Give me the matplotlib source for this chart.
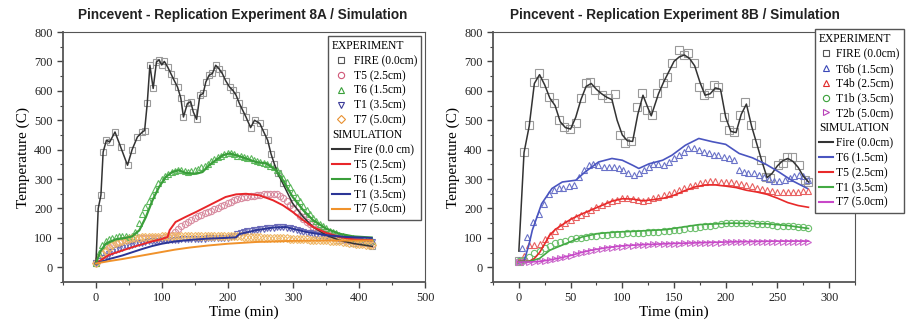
import numpy as np
import matplotlib
matplotlib.use("Agg")
import matplotlib.pyplot as plt
from matplotlib.lines import Line2D
from matplotlib.ticker import MultipleLocator

# ---------------- Experiment 8A (left) ----------------
a_fire_t = [0, 3.5, 7.6, 11, 16, 21, 29, 37.6, 48, 55, 63, 70.6, 74, 78, 82, 87, 92, 96, 100, 104,
            109, 114, 119, 124, 129, 133, 139, 144, 148, 153, 158, 163, 167, 172, 177, 182, 187, 192,
            197, 203, 208, 213, 218, 223, 228, 235, 241, 249, 255, 261, 266, 271, 276, 284, 299, 315,
            330, 350, 370, 391, 420]
a_fire_v = [13, 200, 245, 392, 432, 426, 460, 409, 347, 400, 443, 460, 465, 557, 687, 608, 698, 705, 688, 700,
            681, 658, 635, 613, 575, 511, 557, 563, 528, 503, 585, 591, 630, 653, 659, 687, 675, 659,
            635, 613, 602, 585, 557, 534, 511, 475, 500, 489, 460, 432, 386, 352, 320, 285, 217, 171,
            137, 109, 92, 81, 71]

a_exp_t = list(range(0, 425, 5))
a_t5_exp = [13, 30, 45, 58, 68, 75, 82, 87, 90, 93, 95, 97, 98, 99, 100, 100, 100, 100, 100, 100,
            101, 102, 104, 110, 120, 130, 140, 148, 155, 162, 168, 173, 178, 183, 188, 193, 198, 203,
            208, 213, 218, 223, 228, 232, 235, 238, 240, 242, 244, 246, 247, 248, 249, 250, 250, 248,
            243, 235, 225, 213, 200, 188, 176, 165, 155, 146, 138, 131, 125, 119, 114, 110, 106, 102,
            99, 96, 94, 92, 90, 88, 86, 84, 82, 80, 79]
a_t6_exp = [13, 50, 75, 90, 95, 100, 103, 105, 105, 105, 103, 105, 120, 150, 180, 205, 225, 245, 265, 285,
            300, 310, 318, 325, 328, 330, 330, 327, 325, 326, 330, 335, 340, 345, 350, 360, 367, 375,
            380, 385, 387, 388, 385, 380, 378, 375, 372, 370, 365, 362, 358, 355, 350, 345, 340, 330,
            320, 305, 290, 272, 255, 240, 225, 210, 195, 180, 168, 158, 148, 140, 132, 125, 120, 115,
            110, 107, 104, 101, 99, 97, 95, 93, 91, 89, 88]
a_t1_exp = [13, 22, 30, 38, 45, 52, 58, 63, 67, 71, 74, 77, 80, 82, 84, 86, 88, 89, 90, 91,
            92, 92, 93, 93, 94, 94, 95, 95, 96, 96, 97, 97, 97, 97, 98, 98, 98, 99,
            99, 99, 100, 102, 108, 113, 117, 120, 122, 124, 126, 128, 130, 131, 133, 134, 135, 136,
            136, 136, 135, 133, 130, 127, 124, 121, 118, 115, 113, 110, 108, 106, 104, 102, 100, 98,
            96, 94, 93, 91, 90, 89, 88, 87, 86, 85, 85]
a_t7_exp = [13, 30, 45, 57, 67, 75, 82, 87, 91, 94, 97, 99, 100, 101, 102, 102, 103, 103, 104, 104,
            105, 105, 106, 106, 106, 106, 107, 107, 107, 107, 107, 107, 107, 107, 107, 107, 107, 107,
            107, 107, 107, 106, 106, 105, 105, 104, 104, 103, 103, 102, 102, 101, 101, 100, 100, 99,
            99, 98, 98, 97, 97, 96, 96, 95, 95, 94, 94, 93, 93, 92, 92, 91, 90, 89, 88, 86,
            85, 83, 82, 80, 80, 78, 77, 76, 75]

a_t5_sim_t = [0, 10, 20, 40, 55, 70, 85, 100, 109, 112, 121, 136, 152, 167, 182, 197, 213, 228, 248, 269,
              284, 299, 315, 330, 350, 370, 391, 419]
a_t5_sim = [13, 28, 42, 57, 68, 78, 88, 96, 103, 126, 154, 171, 188, 205, 222, 239, 248, 250, 245, 228,
            211, 188, 160, 137, 117, 103, 95, 92]
a_t6_sim_t = [0, 7, 15, 30, 45, 55, 66, 76, 86, 96, 106, 116, 126, 136, 152, 162, 172, 182, 193, 203,
              213, 228, 243, 259, 274, 284, 299, 315, 330, 350, 370, 391, 419]
a_t6_sim = [13, 55, 80, 95, 100, 105, 126, 171, 228, 273, 307, 324, 330, 321, 318, 324, 347, 364, 381, 387,
            381, 370, 358, 353, 330, 296, 239, 194, 160, 131, 114, 105, 101]
a_t1_sim_t = [0, 10, 20, 40, 55, 70, 85, 100, 120, 142, 167, 198, 213, 218, 243, 269, 289, 299, 320, 350,
              381, 419]
a_t1_sim = [13, 20, 28, 40, 51, 62, 72, 80, 88, 93, 97, 100, 102, 113, 126, 135, 137, 131, 120, 109,
            103, 100]
a_t7_sim_t = [0, 10, 20, 40, 55, 70, 100, 120, 142, 170, 200, 243, 300, 350, 420]
a_t7_sim = [13, 17, 21, 28, 34, 40, 52, 60, 67, 74, 80, 86, 90, 91, 91]

# ---------------- Experiment 8B (right) ----------------
b_fire_t = [0, 5, 10, 15, 19, 24, 29, 34, 39, 44, 49, 55, 60, 65, 69, 74, 80, 86, 93, 98,
            103, 108, 114, 119, 124, 129, 134, 139, 143, 148, 155, 160, 164, 169, 174, 179, 184, 189,
            193, 198, 203, 208, 214, 219, 224, 229, 234, 239, 243, 251, 255, 259, 264, 271, 277, 280]
b_fire_v = [20, 392, 483, 630, 659, 625, 579, 557, 500, 477, 470, 489, 574, 625, 630, 602, 585, 574, 590, 449,
            421, 430, 545, 591, 534, 517, 591, 625, 647, 693, 738, 721, 727, 693, 613, 585, 591, 619,
            613, 511, 466, 460, 517, 562, 483, 421, 364, 307, 302, 347, 355, 375, 375, 347, 296, 290]
b_fire_sim_t = [0, 5, 10, 15, 20, 25, 30, 35, 40, 45, 50, 55, 60, 65, 70, 75, 80, 85, 90, 95,
                100, 105, 110, 115, 120, 125, 128, 135, 140, 145, 150, 155, 160, 165, 170, 175, 180,
                185, 190, 195, 200, 205, 210, 215, 220, 225, 230, 235, 240, 245, 250, 255, 260, 265,
                270, 275, 280]
b_fire_sim = [55, 390, 480, 625, 655, 620, 575, 550, 495, 475, 470, 510, 570, 615, 625, 605, 590, 578, 570, 500,
              450, 430, 428, 520, 585, 540, 515, 590, 630, 665, 700, 715, 722, 710, 685, 630, 585,
              590, 610, 605, 510, 462, 458, 520, 555, 480, 420, 360, 305, 320, 345, 362, 370, 360,
              340, 310, 290]

b_t6_exp_t = [0, 3, 8, 14, 19, 24, 29, 34, 39, 43, 48, 53, 58, 63, 68, 72, 77, 82, 87, 92,
              97, 101, 106, 111, 116, 121, 126, 130, 135, 140, 145, 150, 155, 160, 164, 169, 174, 179,
              184, 189, 193, 198, 203, 208, 213, 218, 222, 227, 232, 237, 242, 247, 252, 257, 262, 266,
              271, 275, 280]
b_t6_exp = [24, 64, 103, 154, 182, 216, 250, 262, 268, 270, 276, 281, 307, 330, 347, 352, 347, 341, 341, 341,
            336, 330, 319, 313, 319, 330, 341, 352, 352, 347, 358, 370, 381, 392, 404, 404, 398, 392,
            387, 381, 381, 375, 370, 364, 330, 324, 319, 319, 313, 307, 300, 295, 292, 298, 305, 312,
            315, 310, 298]
b_exp_t = list(range(0, 285, 5))
b_t4_exp = [20, 40, 75, 75, 80, 95, 110, 125, 140, 150, 160, 170, 178, 186, 195, 204, 212, 220, 226, 230,
            234, 234, 232, 228, 226, 230, 235, 240, 245, 250, 256, 262, 268, 275, 280, 285, 290, 292,
            292, 291, 290, 289, 288, 283, 279, 275, 270, 266, 262, 258, 256, 255, 255, 256, 257, 258,
            258]
b_t1_exp = [20, 25, 35, 47, 57, 65, 74, 82, 87, 91, 95, 98, 100, 103, 105, 107, 109, 111, 113, 113,
            114, 115, 116, 117, 118, 119, 120, 121, 122, 124, 126, 128, 130, 132, 135, 137, 140, 142,
            145, 147, 149, 150, 150, 150, 150, 149, 148, 147, 146, 143, 142, 141, 140, 139, 138, 136,
            135]
b_t2_exp = [18, 18, 18, 19, 20, 22, 25, 28, 32, 36, 40, 44, 48, 52, 55, 58, 61, 64, 66, 68,
            70, 72, 73, 75, 76, 77, 78, 78, 79, 79, 80, 80, 81, 81, 82, 82, 83, 83,
            84, 84, 85, 85, 86, 86, 86, 86, 87, 87, 87, 87, 87, 87, 87, 87, 86, 86,
            85]

b_t6_sim_t = [0, 5, 10, 13, 22, 32, 42, 55, 64, 77, 90, 100, 110, 116, 126, 139, 148, 161, 174, 187,
              200, 213, 226, 239, 251, 264, 279]
b_t6_sim = [20, 20, 80, 126, 216, 268, 290, 296, 324, 358, 370, 364, 347, 336, 352, 364, 381, 415, 438, 427,
            418, 387, 372, 350, 325, 295, 268]
b_t5_sim_t = [0, 10, 15, 20, 25, 30, 35, 40, 50, 60, 70, 80, 90, 100, 110, 120, 130, 140, 150, 160,
              170, 180, 190, 200, 210, 220, 230, 240, 250, 260, 270, 280]
b_t5_sim = [20, 20, 30, 50, 80, 110, 128, 140, 163, 180, 195, 210, 225, 233, 232, 226, 230, 235, 245, 260,
            273, 280, 280, 276, 271, 262, 256, 248, 235, 220, 210, 204]
b_t1_sim_t = [0, 10, 20, 30, 45, 61, 77, 95, 110, 142, 174, 206, 239, 260, 280]
b_t1_sim = [20, 20, 30, 58, 80, 103, 115, 120, 122, 128, 145, 150, 148, 142, 132]
b_t7_sim_t = [0, 10, 20, 30, 40, 50, 60, 70, 80, 90, 100, 120, 150, 200, 250, 280]
b_t7_sim = [18, 18, 20, 25, 32, 40, 50, 58, 64, 69, 73, 77, 81, 86, 89, 89]

plt.rcParams['font.family'] = ['Liberation Serif', 'DejaVu Serif']

fig = plt.figure(figsize=(9.09, 3.23), dpi=100)
ax1 = fig.add_axes([63 / 909, 1 - 282 / 323, 362 / 909, 250 / 323])
ax2 = fig.add_axes([493 / 909, 1 - 282 / 323, 362 / 909, 250 / 323])

mk = dict(linestyle='none', markerfacecolor='none', markersize=4.5, markeredgewidth=0.8)


def style_axes(ax, xmin, xmax, xmaj, xmin_step):
    ax.set_xlim(xmin, xmax)
    ax.set_ylim(-50, 800)
    ax.xaxis.set_major_locator(MultipleLocator(xmaj))
    ax.xaxis.set_minor_locator(MultipleLocator(xmin_step))
    ax.yaxis.set_major_locator(MultipleLocator(100))
    ax.yaxis.set_minor_locator(MultipleLocator(50))
    ax.set_xticks([t for t in ax.get_xticks() if 0 <= t <= xmax])
    ax.set_yticks(np.arange(0, 801, 100))
    ax.tick_params(which='both', direction='out', colors='#444444', labelcolor='#222222',
                   labelsize=8.8, top=False, right=False)
    ax.tick_params(which='major', length=4, width=1)
    ax.tick_params(which='minor', length=2.5, width=0.8)
    for s in ax.spines.values():
        s.set_color('#555555')
        s.set_linewidth(0.8)
    ax.spines['left'].set_linewidth(1.3)
    ax.spines['bottom'].set_linewidth(1.3)
    ax.set_xlabel('Time (min)', fontsize=11, labelpad=1)
    ax.set_ylabel('Temperature (C)', fontsize=11, labelpad=3)


def pull_headers(leg, names):
    for col in leg._legend_handle_box.get_children():
        for row in col.get_children():
            da, ta = row.get_children()
            if ta.get_text() in names:
                da.width = 0
                row.sep = 0


leg_kw = dict(loc='upper left', bbox_transform=fig.transFigure, fontsize=8.3, frameon=True,
              fancybox=False, edgecolor='#555555', framealpha=1, borderaxespad=0, borderpad=0.35,
              labelspacing=0.25, handletextpad=0.3, numpoints=1)

# ---- left panel ----
ax1.plot(a_fire_t, a_fire_v, marker='s', color='#9a9a9a', **dict(mk, markersize=5))
ax1.plot(a_exp_t, a_t5_exp, marker='o', color='#d88ca0', **mk)
ax1.plot(a_exp_t, a_t6_exp, marker='^', color='#5cb85c', **mk)
ax1.plot(a_exp_t, a_t1_exp, marker='v', color='#6a6ab8', **mk)
ax1.plot(a_exp_t, a_t7_exp, marker='D', color='#f0b868', **dict(mk, markersize=4))
ax1.plot(a_fire_t, a_fire_v, color='#333333', lw=1.1)
ax1.plot(a_t5_sim_t, a_t5_sim, color='#e8262a', lw=1.4)
ax1.plot(a_t6_sim_t, a_t6_sim, color='#3a9e3a', lw=1.6)
ax1.plot(a_t1_sim_t, a_t1_sim, color='#2b3596', lw=1.4)
ax1.plot(a_t7_sim_t, a_t7_sim, color='#f0922b', lw=1.4)
style_axes(ax1, -50, 500, 100, 50)

hdr = Line2D([], [], linestyle='none')
h1 = [hdr,
      Line2D([], [], marker='s', color='#555555', **mk),
      Line2D([], [], marker='o', color='#d05878', **mk),
      Line2D([], [], marker='^', color='#3aa03a', **mk),
      Line2D([], [], marker='v', color='#3a3a98', **mk),
      Line2D([], [], marker='D', color='#e89030', **dict(mk, markersize=4)),
      hdr,
      Line2D([], [], color='#333333', lw=1.5),
      Line2D([], [], color='#e8262a', lw=1.5),
      Line2D([], [], color='#3a9e3a', lw=1.5),
      Line2D([], [], color='#2b3596', lw=1.5),
      Line2D([], [], color='#f0922b', lw=1.5)]
l1 = ['EXPERIMENT', 'FIRE (0.0cm)', 'T5 (2.5cm)', 'T6 (1.5cm)', 'T1 (3.5cm)', 'T7 (5.0cm)',
      'SIMULATION', 'Fire (0.0 cm)', 'T5 (2.5cm)', 'T6 (1.5cm)', 'T1 (3.5cm)', 'T7 (5.0cm)']
leg1 = ax1.legend(h1, l1, bbox_to_anchor=(328 / 909, 1 - 36 / 323), handlelength=1.6, **leg_kw)
leg1.get_frame().set_linewidth(1.0)
pull_headers(leg1, ['EXPERIMENT', 'SIMULATION'])

# ---- right panel ----
ax2.plot(b_fire_t, b_fire_v, marker='s', color='#9a9a9a', **dict(mk, markersize=5.5))
ax2.plot(b_t6_exp_t, b_t6_exp, marker='^', color='#6a72c8', **mk)
ax2.plot(b_exp_t, b_t4_exp, marker='^', color='#e86060', **mk)
ax2.plot(b_exp_t, b_t1_exp, marker='o', color='#6cbf6c', **mk)
ax2.plot(b_exp_t, b_t2_exp, marker='>', color='#cc6acc', **mk)
ax2.plot(b_fire_sim_t, b_fire_sim, color='#333333', lw=1.1)
ax2.plot(b_t6_sim_t, b_t6_sim, color='#4a55c0', lw=1.2)
ax2.plot(b_t5_sim_t, b_t5_sim, color='#e82a2a', lw=1.2)
ax2.plot(b_t1_sim_t, b_t1_sim, color='#44aa44', lw=1.2)
ax2.plot(b_t7_sim_t, b_t7_sim, color='#c848c8', lw=1.2)
style_axes(ax2, -25, 325, 50, 25)

h2 = [hdr,
      Line2D([], [], marker='s', color='#555555', **mk),
      Line2D([], [], marker='^', color='#3a48b8', **mk),
      Line2D([], [], marker='^', color='#e02a2a', **mk),
      Line2D([], [], marker='o', color='#3aa03a', **mk),
      Line2D([], [], marker='>', color='#b840b8', **mk),
      hdr,
      Line2D([], [], color='#333333', lw=1.5),
      Line2D([], [], color='#4a55c0', lw=1.5),
      Line2D([], [], color='#e82a2a', lw=1.5),
      Line2D([], [], color='#44aa44', lw=1.5),
      Line2D([], [], color='#c848c8', lw=1.5)]
l2 = ['EXPERIMENT', 'FIRE (0.0cm)', 'T6b (1.5cm)', 'T4b (2.5cm)', 'T1b (3.5cm)', 'T2b (5.0cm)',
      'SIMULATION', 'Fire (0.0cm)', 'T6 (1.5cm)', 'T5 (2.5cm)', 'T1 (3.5cm)', 'T7 (5.0cm)']
leg2 = ax2.legend(h2, l2, bbox_to_anchor=(815 / 909, 1 - 29 / 323), handlelength=1.2, **leg_kw)
leg2.get_frame().set_linewidth(1.0)
pull_headers(leg2, ['EXPERIMENT', 'SIMULATION'])

fig.text(243 / 909, 1 - 15 / 323, 'Pincevent - Replication Experiment 8A / Simulation',
         family=['Liberation Sans', 'DejaVu Sans'], fontweight='bold', fontsize=9.8,
         ha='center', va='center', color='#222222')
fig.text(675 / 909, 1 - 15 / 323, 'Pincevent - Replication Experiment 8B / Simulation',
         family=['Liberation Sans', 'DejaVu Sans'], fontweight='bold', fontsize=9.8,
         ha='center', va='center', color='#222222')

fig.savefig('out.png', dpi=100)
